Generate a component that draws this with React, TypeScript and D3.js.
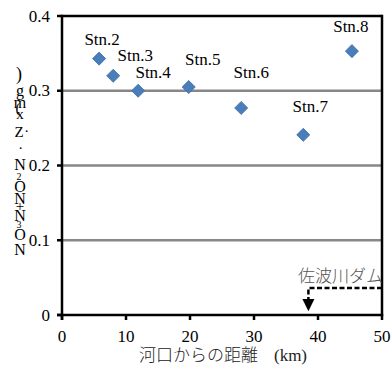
import React from "react";
import * as d3 from "d3";

const stations = ["Stn.2", "Stn.3", "Stn.4", "Stn.5", "Stn.6", "Stn.7", "Stn.8"];
const distanceKm = [5.8, 8.0, 11.9, 19.8, 28.0, 37.7, 45.3];
const concentration = [0.343, 0.32, 0.3, 0.305, 0.277, 0.241, 0.353];
const xTicks = [0, 10, 20, 30, 40, 50];
const yTicks = [0, 0.1, 0.2, 0.3, 0.4];
const yTickLabels = ["0", "0.1", "0.2", "0.3", "0.4"];
const damName = "佐波川ダム";
const damKm = 38.5;
const xTitle = "河口からの距離";
const xUnit = "(km)";
// garbled stacked y-axis label glyphs (top to bottom)
const yLabelGlyphs = [")", "g", "m", "(", "x", "Z", "・", "・", "N", "2", "O", "N", "+", "N", "3", "O", "N"];

// label placement offsets (style only)
const labelDx = [3, 22, 15, 14, 10, 7, -1];
const labelDy = [-19, -20, -18, -28, -35, -28, -25];
const glyphY = [74, 90, 102, 108, 114, 132, 131, 148, 164, 176, 186, 198, 206, 215, 224, 234, 249];
const glyphX = [19, 20, 20, 18, 20, 19, 26, 20, 20, 19, 20, 20, 20, 20, 19, 20, 20];
const glyphSize = [18, 16, 16, 15, 15, 15, 11, 11, 16, 10, 16, 16, 15, 16, 10, 16, 16];

const W = 392, H = 372;
const L = 62, R = 382, T = 16, B = 315;

const serif = '"Liberation Serif", serif';
const jp = '"Noto Sans CJK JP", sans-serif';

export default function App() {
  const x = d3.scaleLinear().domain([0, 50]).range([L, R]);
  const y = d3.scaleLinear().domain([0, 0.4]).range([B, T]);
  const diamond = d3.symbol().type(d3.symbolSquare).size(85)();
  const damX = x(damKm);
  const damLineY = y(0.036);
  const sf = { fontFamily: serif };
  const jf = { fontFamily: jp, fontWeight: 300 };
  return (
    <svg width={W} height={H} style={{ position: "absolute", left: 0, top: 0, background: "#fff" }}>
      <rect x={0} y={0} width={W} height={H} fill="#fff" />
      {yTicks.filter(t => t > 0 && t < 0.4).map(t => (
        <line key={"g" + t} x1={L} x2={R} y1={y(t)} y2={y(t)} stroke="#878787" strokeWidth={2.5} />
      ))}
      {/* frame */}
      <line x1={L} x2={R} y1={T} y2={T} stroke="#000" strokeWidth={2.5} />
      <line x1={R} x2={R} y1={T - 1.25} y2={B} stroke="#000" strokeWidth={2.5} />
      <line x1={L} x2={L} y1={T - 1.25} y2={B + 5} stroke="#000" strokeWidth={2.5} />
      <line x1={L - 5} x2={R + 1.25} y1={B} y2={B} stroke="#000" strokeWidth={2.5} />
      {yTicks.map((t, i) => (
        <g key={"yt" + t}>
          <line x1={L - 5} x2={L} y1={y(t)} y2={y(t)} stroke="#000" strokeWidth={2.5} />
          <text x={L - 12} y={y(t) + 5.5} textAnchor="end" style={sf} fontSize={17} fill="#000">
            {yTickLabels[i]}
          </text>
        </g>
      ))}
      {xTicks.map(t => (
        <g key={"xt" + t}>
          <line x1={x(t)} x2={x(t)} y1={B} y2={B + 5} stroke="#000" strokeWidth={2.5} />
          <text x={x(t)} y={B + 27} textAnchor="middle" style={sf} fontSize={17} fill="#000">
            {t}
          </text>
        </g>
      ))}
      {/* y label glyphs */}
      {yLabelGlyphs.map((g, i) => (
        <text key={"yl" + i} x={glyphX[i]} y={glyphY[i] + glyphSize[i] * 0.35} textAnchor="middle"
          style={sf} fontSize={glyphSize[i]} fill="#000">
          {g}
        </text>
      ))}
      {/* x title */}
      <text x={(L + R) / 2 + 1} y={361} textAnchor="middle" fill="#222">
        <tspan style={jf} fontSize={17}>{xTitle}</tspan>
        <tspan style={sf} fontSize={17} dx={16}>{xUnit}</tspan>
      </text>
      {/* points */}
      {distanceKm.map((d, i) => (
        <path key={"p" + i} d={diamond} transform={`translate(${x(d)},${y(concentration[i])}) rotate(45)`}
          fill="#4A7EBB" stroke="#3F6EA6" strokeWidth={0.8} />
      ))}
      {stations.map((s, i) => (
        <text key={"s" + i} x={x(distanceKm[i]) + labelDx[i]} y={y(concentration[i]) + labelDy[i] + 5.5}
          textAnchor="middle" style={sf} fontSize={17} fill="#000">
          {s}
        </text>
      ))}
      {/* dam annotation */}
      <text x={R + 1} y={damLineY - 6} textAnchor="end" style={jf} fontSize={17} fill="#555">
        {damName}
      </text>
      <path d={`M${R},${damLineY} H${damX} V${damLineY + 12}`} fill="none" stroke="#000" strokeWidth={2.5}
        strokeDasharray="5,2.5" />
      <path d={`M${damX - 6},${damLineY + 11} L${damX + 6},${damLineY + 11} L${damX},${y(0.005)} Z`} fill="#000" />
    </svg>
  );
}
